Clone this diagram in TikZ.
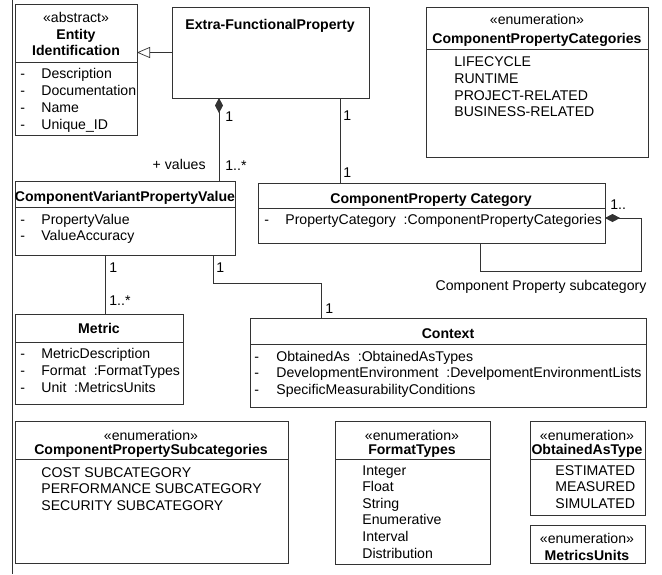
\documentclass[tikz,border=0pt]{standalone}
\usepackage{fontspec}
\setmainfont{Liberation Sans}
\usetikzlibrary{arrows.meta}

\tikzset{
  box/.style={draw, anchor=north west, inner sep=0pt, outer sep=0pt},
  txt/.style={inner sep=0pt, text height=10pt, text depth=0pt, font=\fontsize{14.1}{16}\selectfont},
  ttl/.style={txt, font=\fontsize{14.1}{16}\selectfont\bfseries},
  attr/.style={txt, anchor=west},
  mult/.style={txt, anchor=west},
  gen/.style={-{Triangle[open,length=13pt,width=11pt]}},
  comp/.style={{Diamond[length=15pt,width=8pt]}-},
}

\begin{document}
\begin{tikzpicture}[x=1pt, y=-1pt, line width=0.7pt, draw=black!80]
\useasboundingbox (0,0) rectangle (662,574);
\draw (12,0) -- (12,574);

\node[box, minimum width=122pt, minimum height=131pt] (eid) at (15,4) {};
\node[txt] (eid-st) at (76,17) {«abstract»};
\node[ttl] (eid-t1) at (76,34) {Entity};
\node[ttl] (eid-t2) at (76,50) {Identification};
\draw (eid.west |- 0,62) -- (eid.east |- 0,62);
\foreach \t [count=\i] in {Description, Documentation, Name, Unique\_ID} {
  \node[attr] (eid-d\i) at (20,56+17*\i) {-};
  \node[attr] (eid-a\i) at (41,56+17*\i) {\t};
}

\node[box, minimum width=197pt, minimum height=91pt] (efp) at (172,7) {};
\node[ttl] (efp-t) at (270,24) {Extra-FunctionalProperty};

\node[box, minimum width=222pt, minimum height=150pt] (cpcs) at (426,7) {};
\node[txt] (cpcs-st) at (537,19) {«enumeration»};
\node[ttl] (cpcs-t) at (537,38) {ComponentPropertyCategories};
\draw (cpcs.west |- 0,49) -- (cpcs.east |- 0,49);
\foreach \t [count=\i] in {LIFECYCLE, RUNTIME, PROJECT-RELATED, BUSINESS-RELATED}
  \node[attr] (cpcs-a\i) at (454,45+16.7*\i) {\t};

\node[box, minimum width=220pt, minimum height=74pt] (cvpv) at (15,181) {};
\node[ttl] (cvpv-t) at (125,196) {ComponentVariantPropertyValue};
\draw (cvpv.west |- 0,207) -- (cvpv.east |- 0,207);
\foreach \t [count=\i] in {PropertyValue, ValueAccuracy} {
  \node[attr] (cvpv-d\i) at (20,203+16*\i) {-};
  \node[attr] (cvpv-a\i) at (41,203+16*\i) {\t};
}

\node[box, minimum width=347pt, minimum height=60pt] (cpc) at (258,183) {};
\node[ttl] (cpc-t) at (431,198) {ComponentProperty Category};
\draw (cpc.west |- 0,208) -- (cpc.east |- 0,208);
\node[attr] (cpc-d1) at (264,219) {-};
\node[attr] (cpc-a1) at (285,219) {PropertyCategory\ \ :ComponentPropertyCategories};

\node[box, minimum width=168pt, minimum height=90pt] (metric) at (15,314) {};
\node[ttl] (metric-t) at (99,328) {Metric};
\draw (metric.west |- 0,342) -- (metric.east |- 0,342);
\foreach \t [count=\i] in {MetricDescription, Format\ \ :FormatTypes, Unit\ \ :MetricsUnits} {
  \node[attr] (metric-d\i) at (20,336+17*\i) {-};
  \node[attr] (metric-a\i) at (41,336+17*\i) {\t};
}

\node[box, minimum width=396pt, minimum height=89pt] (context) at (250,318) {};
\node[ttl] (context-t) at (448,333) {Context};
\draw (context.west |- 0,344) -- (context.east |- 0,344);
\foreach \t [count=\i] in {ObtainedAs\ \ :ObtainedAsTypes,
    DevelopmentEnvironment\ \ :DevelpomentEnvironmentLists,
    SpecificMeasurabilityConditions} {
  \node[attr] (context-d\i) at (254,339.5+16.5*\i) {-};
  \node[attr] (context-a\i) at (276,339.5+16.5*\i) {\t};
}

\node[box, minimum width=273pt, minimum height=142pt] (subs) at (15,421) {};
\node[txt] (subs-st) at (151,435) {«enumeration»};
\node[ttl] (subs-t) at (151,449) {ComponentPropertySubcategories};
\draw (subs.west |- 0,459) -- (subs.east |- 0,459);
\foreach \t [count=\i] in {COST SUBCATEGORY, PERFORMANCE SUBCATEGORY, SECURITY SUBCATEGORY}
  \node[attr] (subs-a\i) at (41,455.5+16.5*\i) {\t};

\node[box, minimum width=155pt, minimum height=143pt] (fmt) at (335,421) {};
\node[txt] (fmt-st) at (412,435) {«enumeration»};
\node[ttl] (fmt-t) at (412,449) {FormatTypes};
\draw (fmt.west |- 0,459) -- (fmt.east |- 0,459);
\foreach \t [count=\i] in {Integer, Float, String, Enumerative, Interval, Distribution}
  \node[attr] (fmt-a\i) at (362,453.5+16.6*\i) {\t};

\node[box, minimum width=115pt, minimum height=94pt] (oat) at (530,421) {};
\node[txt] (oat-st) at (587,435) {«enumeration»};
\node[ttl] (oat-t) at (587,449) {ObtainedAsType};
\draw (oat.west |- 0,459) -- (oat.east |- 0,459);
\foreach \t [count=\i] in {ESTIMATED, MEASURED, SIMULATED}
  \node[attr] (oat-a\i) at (555,453.5+16.5*\i) {\t};

\node[box, minimum width=115pt, minimum height=38pt] (mu) at (530,525) {};
\node[txt] (mu-st) at (587,538) {«enumeration»};
\node[ttl] (mu-t) at (587,555) {MetricsUnits};

\draw[gen] (efp.west) -- (eid.east |- efp.west);

\coordinate (vtop) at ([xshift=-16pt]cvpv.north east);
\draw[comp] (efp.south -| vtop) -- (vtop);
\node[mult] (m1) at (225,116) {1};
\node[mult] (m2) at (225,165) {1..*};
\node[txt, anchor=east] (role) at (206,164) {+ values};

\coordinate (ctop) at ([xshift=-29pt]efp.south east);
\draw (ctop) -- (ctop |- cpc.north);
\node[mult] (m3) at (343,115) {1};
\node[mult] (m4) at (343,172) {1};

\coordinate (mtop) at ([xshift=-20pt]cvpv.south);
\draw (mtop) -- (mtop |- metric.north);
\node[mult] (m5) at (109,267) {1};
\node[mult] (m6) at (109,300) {1..*};

\coordinate (k1) at ([xshift=-22pt]cvpv.south east);
\coordinate (k2) at ([xshift=71pt]context.north west);
\draw (k1) -- (k1 |- 0,283) -| (k2);
\node[mult] (m7) at (216,267) {1};
\node[mult] (m8) at (325,308) {1};

\coordinate (s1) at ([yshift=-5pt]cpc.east);
\coordinate (s2) at (641,271);
\coordinate (s3) at ([xshift=49pt]cpc.south);
\draw[comp] (s1) -| (s2) -| (s3);
\node[mult] (m9) at (610,204) {1..};
\node[txt] (self) at (541,285) {Component Property subcategory};
\end{tikzpicture}
\end{document}
